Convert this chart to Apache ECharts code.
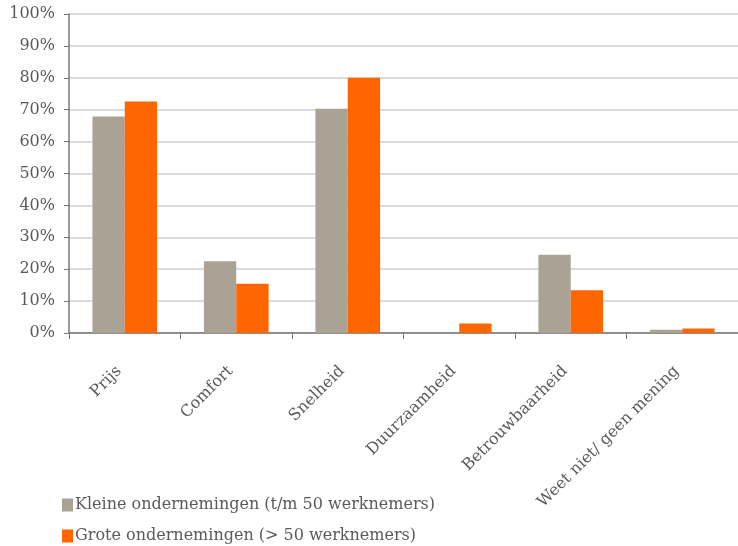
<html lang="nl">
<head>
<meta charset="UTF-8" />
<script src="https://cdn.jsdelivr.net/npm/echarts@6/dist/echarts.min.js"></script>
<style>
* { padding: 0; margin: 0; }
</style>
</head>
<body>
<div id="main" style="width:738px;height:546px"></div>
<script>
var categories = ["Prijs", "Comfort", "Snelheid", "Duurzaamheid", "Betrouwbaarheid", "Weet niet/ geen mening"]
var seriesNames = ["Kleine ondernemingen (t/m 50 werknemers)", "Grote ondernemingen (> 50 werknemers)"]
var kleine = [67.9, 22.5, 70.3, 0, 24.5, 1.0]
var grote = [72.6, 15.4, 80, 3.0, 13.4, 1.4]
var yTicks = [0, 10, 20, 30, 40, 50, 60, 70, 80, 90, 100]

var font = "DejaVu Serif"
var textColor = "#5a5a5a"

var myChart = echarts.init(document.getElementById("main"))
var option = {
	backgroundColor: "#fff",
	animation: false,
	grid: { left: 69, right: 0, top: 14, bottom: 213 },
	legend: {
		orient: "vertical",
		left: 62,
		top: 497,
		padding: 0,
		itemWidth: 11,
		itemHeight: 13,
		itemGap: 15,
		icon: "rect",
		textStyle: { color: textColor, fontSize: 16, fontFamily: font, padding: [0, 0, 0, -3] },
		data: seriesNames
	},
	xAxis: {
		type: "category",
		data: categories,
		axisLine: { lineStyle: { color: "#777", width: 1.5 } },
		axisTick: { show: true, length: 6, lineStyle: { color: "#777" } },
		axisLabel: {
			rotate: 45,
			interval: 0,
			margin: 30,
			padding: [0, 8, 0, 0],
			color: textColor,
			fontSize: 16,
			fontFamily: font
		}
	},
	yAxis: {
		type: "value",
		min: yTicks[0],
		max: yTicks[yTicks.length - 1],
		interval: 10,
		axisLine: { show: true, lineStyle: { color: "#777", width: 1.5 } },
		axisTick: { show: true, length: 5, lineStyle: { color: "#777" } },
		axisLabel: {
			formatter: "{value}%",
			color: textColor,
			fontSize: 16,
			fontFamily: font,
			margin: 14
		},
		splitLine: { show: true, lineStyle: { color: "#cfcfcf", width: 1.5 } }
	},
	series: [
		{
			name: seriesNames[0],
			type: "bar",
			data: kleine,
			barGap: "0%",
			barCategoryGap: "42%",
			itemStyle: { color: "#aaa294" }
		},
		{
			name: seriesNames[1],
			type: "bar",
			data: grote,
			itemStyle: { color: "#ff6600" }
		}
	]
}
myChart.setOption(option)
</script>
</body>
</html>
